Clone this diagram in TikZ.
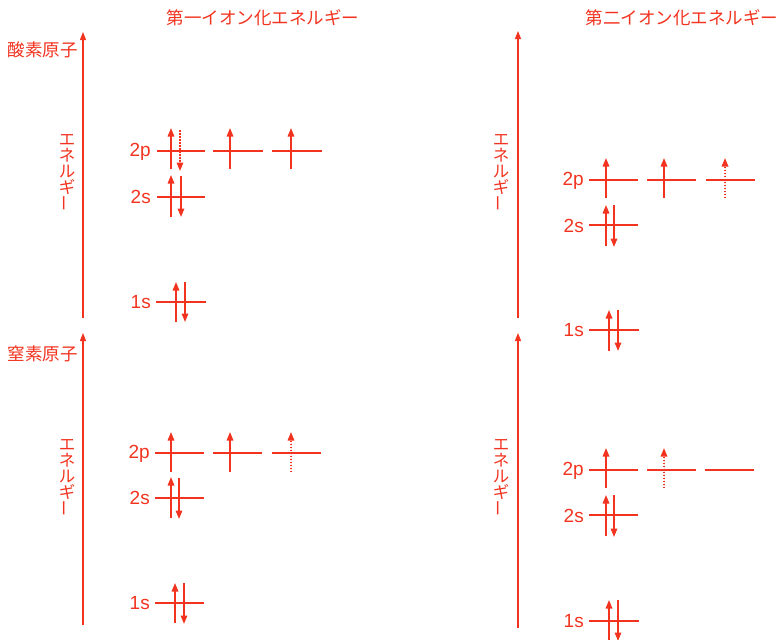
\documentclass[tikz,border=0pt]{standalone}
\usepackage{fontspec}
\setmainfont{Noto Sans CJK JP}
\newfontfamily\latinsans{Liberation Sans}
\usepackage{tikz}
\usetikzlibrary{arrows.meta}
\definecolor{accent}{HTML}{F2331F}

\begin{document}
\begin{tikzpicture}[x=1pt, y=-1pt,
    every node/.style={text=accent, inner sep=0pt},
    level/.style={draw=accent, line width=1.3pt},
    spin/.style={draw=accent, fill=accent, line width=1.6pt, -{Triangle[width=6.5pt,length=8.5pt]}},
    spinhalf/.style={spin, dash pattern=on 1.5pt off 1.5pt},
    axis/.style={draw=accent, fill=accent, line width=1.3pt, -{Triangle[width=6pt,length=8pt]}},
    title/.style={font=\fontsize{17.5}{20}\selectfont},
    orb/.style={anchor=east, font=\latinsans\fontsize{19}{20}\selectfont},
    vert/.style={align=center, font=\fontsize{16.5}{16}\selectfont}]
    \useasboundingbox (0,0) rectangle (780,640);
    \clip (0,0) rectangle (780,640);

    % Titel
    \node[title] (first) at (263,18) {第一イオン化エネルギー};
    \node[title] (second) at (682,18) {第二イオン化エネルギー};
    \node[title] (oxygen) at (43,50) {酸素原子};
    \node[title] (nitrogen) at (43,354) {窒素原子};

    % Energieachsen
    \draw[axis] (83,318) -- (83,32);
    \draw[axis] (83,625) -- (83,333);
    \draw[axis] (518,318) -- (518,31);
    \draw[axis] (518,628) -- (518,333);
    \node[vert] (eO1) at (67,173) {エ\\ネ\\ル\\ギ\\\rotatebox{90}{ー}};
    \node[vert] (eN1) at (67,478) {エ\\ネ\\ル\\ギ\\\rotatebox{90}{ー}};
    \node[vert] (eO2) at (501,173) {エ\\ネ\\ル\\ギ\\\rotatebox{90}{ー}};
    \node[vert] (eN2) at (501,478) {エ\\ネ\\ル\\ギ\\\rotatebox{90}{ー}};

    % O, erste Ionisierung
    \node[orb] (o2p) at (151,152) {2p};
    \node[orb] (o2s) at (151,197) {2s};
    \node[orb] (o1s) at (151,302) {1s};
    \draw[level] (157,151) -- (205,151);
    \draw[level] (213,151) -- (263,151);
    \draw[level] (272,151) -- (322,151);
    \draw[spin] (171,169) -- (171,128);
    \draw[spinhalf] (180,130) -- (180,171);
    \draw[spin] (230,169) -- (230,128);
    \draw[spin] (291,169) -- (291,128);
    \draw[level] (157,197) -- (205,197);
    \draw[spin] (171,217) -- (171,175);
    \draw[spin] (181,176) -- (181,217);
    \draw[level] (156,302) -- (206,302);
    \draw[spin] (176,322) -- (176,282);
    \draw[spin] (185,282) -- (185,322);

    % N, erste Ionisierung
    \node[orb] (n2p) at (150,454) {2p};
    \node[orb] (n2s) at (150,498) {2s};
    \node[orb] (n1s) at (150,603) {1s};
    \draw[level] (155,453) -- (204,453);
    \draw[level] (213,453) -- (262,453);
    \draw[level] (272,453) -- (321,453);
    \draw[spin] (171,472) -- (171,432);
    \draw[spin] (230,472) -- (230,432);
    \draw[spinhalf] (291,472) -- (291,432);
    \draw[level] (155,498) -- (204,498);
    \draw[spin] (171,518) -- (171,477);
    \draw[spin] (179,478) -- (179,519);
    \draw[level] (155,603) -- (204,603);
    \draw[spin] (175,623) -- (175,583);
    \draw[spin] (184,583) -- (184,624);

    % O+, zweite Ionisierung
    \node[orb] (op2p) at (584,181) {2p};
    \node[orb] (op2s) at (584,226) {2s};
    \node[orb] (op1s) at (584,330) {1s};
    \draw[level] (589,180) -- (638,180);
    \draw[level] (647,180) -- (696,180);
    \draw[level] (706,180) -- (755,180);
    \draw[spin] (606,198) -- (606,158);
    \draw[spin] (664,198) -- (664,158);
    \draw[spinhalf] (725,198) -- (725,158);
    \draw[level] (589,225) -- (638,225);
    \draw[spin] (606,246) -- (606,205);
    \draw[spin] (614,205) -- (614,247);
    \draw[level] (589,330) -- (639,330);
    \draw[spin] (609,351) -- (609,310);
    \draw[spin] (618,310) -- (618,351);

    % N+, zweite Ionisierung
    \node[orb] (np2p) at (584,471) {2p};
    \node[orb] (np2s) at (584,516) {2s};
    \node[orb] (np1s) at (584,621) {1s};
    \draw[level] (589,470) -- (638,470);
    \draw[level] (647,470) -- (696,470);
    \draw[level] (705,470) -- (754,470);
    \draw[spin] (606,488) -- (606,448);
    \draw[spinhalf] (664,488) -- (664,448);
    \draw[level] (589,515) -- (638,515);
    \draw[spin] (606,536) -- (606,495);
    \draw[spin] (614,495) -- (614,537);
    \draw[level] (589,621) -- (639,621);
    \draw[spin] (609,641) -- (609,600);
    \draw[spin] (618,600) -- (618,641);
\end{tikzpicture}
\end{document}
